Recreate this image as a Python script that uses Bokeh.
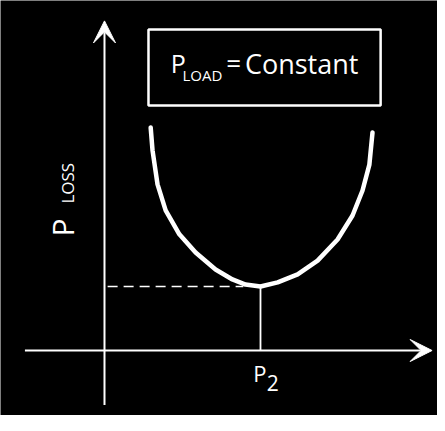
from bokeh.plotting import figure
from bokeh.models import Range1d, Arrow, VeeHead, ColumnDataSource
from bokeh.core.properties import value
from bokeh.embed import file_html
from bokeh.resources import INLINE

# ---- data (arbitrary units) ----
curve_x = [1.48, 1.54, 1.70, 1.96, 2.40, 2.92, 3.56, 4.10, 4.52, 5.00,
           5.55, 6.19, 6.83, 7.47, 7.95, 8.27, 8.49, 8.59]
curve_y = [6.97, 6.25, 5.19, 4.38, 3.63, 3.06, 2.53, 2.22, 2.06, 2.00,
           2.13, 2.38, 2.81, 3.47, 4.22, 5.00, 5.81, 6.81]
p2_value = 5.0          # P2 on the x axis
ploss_min = 2.0         # minimum loss
x_axis_extent = [-2.55, 10.5]
y_axis_extent = [-1.7, 10.3]
box_left, box_right = 1.41, 8.85
box_bottom, box_top = 7.66, 10.03

FONT = "Open Sans"
WHITE = "white"

p = figure(width=437, height=415, output_backend="svg", toolbar_location=None,
           x_axis_type=None, y_axis_type=None,
           x_range=Range1d(-3.333, 10.673), y_range=Range1d(-2.031, 10.9375),
           min_border=0, min_border_left=0, min_border_right=0,
           min_border_top=0, min_border_bottom=0)
p.background_fill_color = "black"
p.border_fill_color = "black"
p.outline_line_color = None
p.grid.visible = False

# axes with arrows
p.add_layout(Arrow(end=VeeHead(size=22, fill_color=WHITE, line_color=WHITE, line_width=1),
                   x_start=x_axis_extent[0], y_start=0, x_end=x_axis_extent[1], y_end=0,
                   line_color=WHITE, line_width=2))
p.add_layout(Arrow(end=VeeHead(size=22, fill_color=WHITE, line_color=WHITE, line_width=1),
                   x_start=0, y_start=y_axis_extent[0], x_end=0, y_end=y_axis_extent[1],
                   line_color=WHITE, line_width=2))

# loss curve
src = ColumnDataSource(dict(x=curve_x, y=curve_y))
p.line("x", "y", source=src, line_color=WHITE, line_width=4.5, line_cap="round", line_join="round")

# dashed line to the y axis and vertical line to P2
p.line([0.1, p2_value - 0.55], [ploss_min, ploss_min], line_color=WHITE, line_width=1.6,
       line_dash="10 6")
p.line([p2_value, p2_value], [0, ploss_min], line_color=WHITE, line_width=1.8)

# box
p.quad(left=[box_left], right=[box_right], bottom=[box_bottom], top=[box_top],
       fill_alpha=0, line_color=WHITE, line_width=2.5)

def lab(text, x, y, size):
    p.text(x=[x], y=[y], text=[text], text_color=WHITE, text_font=value(FONT),
           text_font_size=f"{size}px",
           text_baseline="middle", text_align="left")

# P_LOAD = Constant
lab("P", 2.12, 8.97, 25)
lab("LOAD", 2.5, 8.61, 15)
lab("=", 3.9, 9.0, 26)
lab("Constant", 4.5, 8.97, 27)

# P_LOSS (rotated, one text renderer)
vsrc = ColumnDataSource(dict(x=[-1.35, -1.2], y=[3.5625, 4.59], text=["P", "LOSS"],
                             size=["30px", "17px"]))
p.text(x="x", y="y", text="text", source=vsrc, text_color=WHITE, text_font=value(FONT),
       text_font_size="size", angle=90, angle_units="deg",
       text_baseline="middle", text_align="left")

# P2
lab("P", 4.77, -0.6875, 22)
lab("2", 5.2, -1.016, 21)

open("out.html", "w").write(file_html(p, INLINE))
